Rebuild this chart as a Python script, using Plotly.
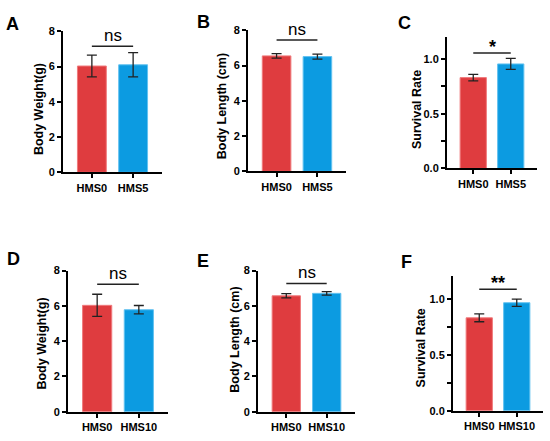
import plotly.graph_objects as go

# data
groups_5 = ["HMS0", "HMS5"]
groups_10 = ["HMS0", "HMS10"]

weight_5_mean = [6.03, 6.10]
weight_5_sd = [0.62, 0.69]
length_5_mean = [6.55, 6.51]
length_5_sd = [0.13, 0.14]
survival_5_mean = [0.83, 0.955]
survival_5_sd = [0.03, 0.05]

weight_10_mean = [6.03, 5.78]
weight_10_sd = [0.63, 0.24]
length_10_mean = [6.57, 6.71]
length_10_sd = [0.12, 0.10]
survival_10_mean = [0.83, 0.965]
survival_10_sd = [0.035, 0.033]

sig_labels = ["ns", "ns", "*", "ns", "ns", "**"]
sig_heights = [7.15, 7.45, 1.055, 7.23, 7.27, 1.085]

panel_letters = ["A", "B", "C", "D", "E", "F"]
y_titles = ["Body Weight(g)", "Body Length (cm)", "Survival Rate",
            "Body Weight(g)", "Body Length (cm)", "Survival Rate"]

W, H = 550, 441
FONT = "Arial, 'Liberation Sans', sans-serif"
RED = "#DF3C3F"
BLUE = "#0C9BE1"


def fx(px):
    return px / W


def fy(py):
    return 1 - py / H


# pixel boxes of each plot area: left, right, top, bottom
boxes = [
    (63, 162, 26, 171),
    (248, 346, 25, 170),
    (447, 537, 32, 167),
    (68, 168, 272, 417),
    (258, 355, 272, 417),
    (453, 543, 278, 416),
]
title_pos = [(39, 106), (222, 103), (417, 107), (42, 347), (235, 343), (421, 352)]
letter_pos = [(12, 18), (203, 16), (404, 17), (13, 260), (203, 262), (406, 263)]

panels = [
    (groups_5, weight_5_mean, weight_5_sd, "weight"),
    (groups_5, length_5_mean, length_5_sd, "weight"),
    (groups_5, survival_5_mean, survival_5_sd, "rate"),
    (groups_10, weight_10_mean, weight_10_sd, "weight"),
    (groups_10, length_10_mean, length_10_sd, "weight"),
    (groups_10, survival_10_mean, survival_10_sd, "rate"),
]

fig = go.Figure()
layout = dict()
shapes = []
annotations = []

for i, (groups, mean, sd, kind) in enumerate(panels):
    n = "" if i == 0 else str(i + 1)
    xa, ya = "x" + n, "y" + n
    l, r, t, b = boxes[i]

    fig.add_trace(go.Bar(
        x=[0, 1], y=mean, width=0.7,
        marker=dict(color=[RED, BLUE], line=dict(color=["#F07A7C", "#62C2F0"], width=1)),
        error_y=dict(type="data", array=sd, color="#222222", thickness=1.3, width=5),
        xaxis=xa, yaxis=ya, showlegend=False, hoverinfo="skip",
    ))

    layout["xaxis" + n] = dict(
        domain=[fx(l), fx(r)], anchor=ya, range=[-0.7, 1.7],
        tickvals=[0, 1], ticktext=groups, showline=True, linecolor="black",
        linewidth=2, ticks="outside", ticklen=4, tickwidth=1.5, tickcolor="black",
        showgrid=False, zeroline=False, fixedrange=True,
        tickfont=dict(family=FONT, size=11, color="black", weight="bold"),
    )
    if kind == "rate":
        yticks = dict(range=[0, 1.2], tickvals=[0, 0.25, 0.5, 0.75, 1.0],
                      ticktext=["0.0", "", "0.5", "", "1.0"])
    else:
        yticks = dict(range=[0, 8], tickvals=[0, 2, 4, 6, 8],
                      ticktext=["0", "2", "4", "6", "8"])
    layout["yaxis" + n] = dict(
        domain=[fy(b), fy(t)], anchor=xa, showline=True, linecolor="black",
        linewidth=2, ticks="outside", ticklen=4, tickwidth=1.5, tickcolor="black",
        showgrid=False, zeroline=False, fixedrange=True,
        tickfont=dict(family=FONT, size=11, color="black", weight="bold"),
        **yticks,
    )

    # significance bracket between bar centres
    shapes.append(dict(type="line", xref=xa, yref=ya, x0=0, x1=1,
                       y0=sig_heights[i], y1=sig_heights[i],
                       line=dict(color="#222222", width=1.5)))
    star = sig_labels[i] != "ns"
    annotations.append(dict(
        xref=xa, yref=ya, x=0.5, y=sig_heights[i], text=sig_labels[i],
        showarrow=False, yanchor="bottom", yshift=-6 if star else -1,
        font=dict(family=FONT, size=18 if star else 17, color="black",
                  weight="bold" if star else "normal"),
    ))

    tx, ty = title_pos[i]
    annotations.append(dict(
        xref="paper", yref="paper", x=fx(tx), y=fy(ty), text=y_titles[i],
        textangle=-90, showarrow=False, xanchor="center", yanchor="middle",
        font=dict(family=FONT, size=12.5, color="black", weight="bold"),
    ))

    lx, ly = letter_pos[i]
    annotations.append(dict(
        xref="paper", yref="paper", x=fx(lx), y=fy(ly), text=panel_letters[i],
        showarrow=False, xanchor="center", yanchor="middle",
        font=dict(family=FONT, size=18, color="black", weight="bold"),
    ))

fig.update_layout(
    width=W, height=H, margin=dict(l=0, r=0, t=0, b=0),
    paper_bgcolor="white", plot_bgcolor="white",
    shapes=shapes, annotations=annotations, **layout,
)

# the page's default body margin would push the figure 8px off the window
fig.write_html("out.html", config={"displayModeBar": False},
               post_script="document.body.style.margin='0';")
